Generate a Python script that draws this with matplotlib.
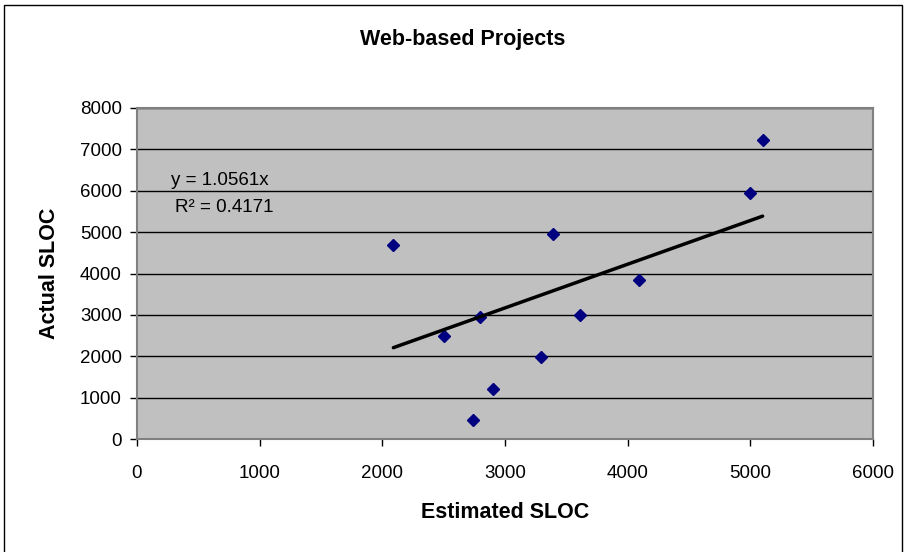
import numpy as np
import matplotlib
matplotlib.use("Agg")
import matplotlib.pyplot as plt
from matplotlib.patches import Rectangle

plt.rcParams['font.family'] = ['Liberation Sans', 'DejaVu Sans']

# Project sizes: estimated vs. actual source lines of code
estimated_sloc = [2090, 2500, 2800, 2740, 2900, 3290, 3390, 3610, 4090, 5000, 5100]
actual_sloc = [4700, 2490, 2950, 460, 1210, 1980, 4950, 3000, 3840, 5940, 7230]

# Linear trendline through the origin
slope = 1.0561
r_squared = 0.4171

x_ticks = [0, 1000, 2000, 3000, 4000, 5000, 6000]
y_ticks = [0, 1000, 2000, 3000, 4000, 5000, 6000, 7000, 8000]

fig = plt.figure(figsize=(9.05, 5.52), dpi=100)
fig.patch.set_facecolor('white')
# Chart-area frame (bottom edge runs past the canvas)
fig.patches.append(Rectangle((4 / 905, -0.02), 898 / 905, 1.02 - 5 / 552,
                             transform=fig.transFigure, fill=False,
                             edgecolor='black', linewidth=1.0))

ax = fig.add_axes([137 / 905, 1 - 439 / 552, (873 - 137) / 905, (439 - 108) / 552])
ax.set_facecolor('#C0C0C0')
ax.set_xlim(0, 6000)
ax.set_ylim(0, 8000)
ax.set_xticks(x_ticks)
ax.set_yticks(y_ticks)
ax.set_xticklabels([str(v) for v in x_ticks])
ax.set_yticklabels([str(v) for v in y_ticks])
ax.tick_params(axis='both', direction='out', length=5, width=1, color='black',
               labelsize=13.5)
ax.tick_params(axis='x', pad=14)
ax.tick_params(axis='y', pad=6)

ax.grid(axis='y', color='black', linewidth=1.0)
ax.set_axisbelow(True)
for side in ['top', 'right', 'left', 'bottom']:
    ax.spines[side].set_color('#808080')
    ax.spines[side].set_linewidth(1.5)

ax.plot(estimated_sloc, actual_sloc, linestyle='none', marker='D',
        markersize=6.3, color='#000080', zorder=3)

xs = np.array([min(estimated_sloc), max(estimated_sloc)])
ax.plot(xs, slope * xs, color='black', linewidth=2.5, solid_capstyle='round', zorder=4)

ax.text(280, 6250, f'y = {slope}x', fontsize=13.5, va='center', ha='left')
ax.text(310, 5600, f'R\u00b2 = {r_squared}', fontsize=13.5, va='center', ha='left')

ax.set_xlabel('Estimated SLOC', fontsize=15.5, fontweight='bold', labelpad=14)
ax.set_ylabel('Actual SLOC', fontsize=15.5, fontweight='bold', labelpad=14)
fig.text(463 / 905, 1 - 39 / 552, 'Web-based Projects', fontsize=15.5,
         fontweight='bold', ha='center', va='center')

fig.savefig('out.png', dpi=100)
